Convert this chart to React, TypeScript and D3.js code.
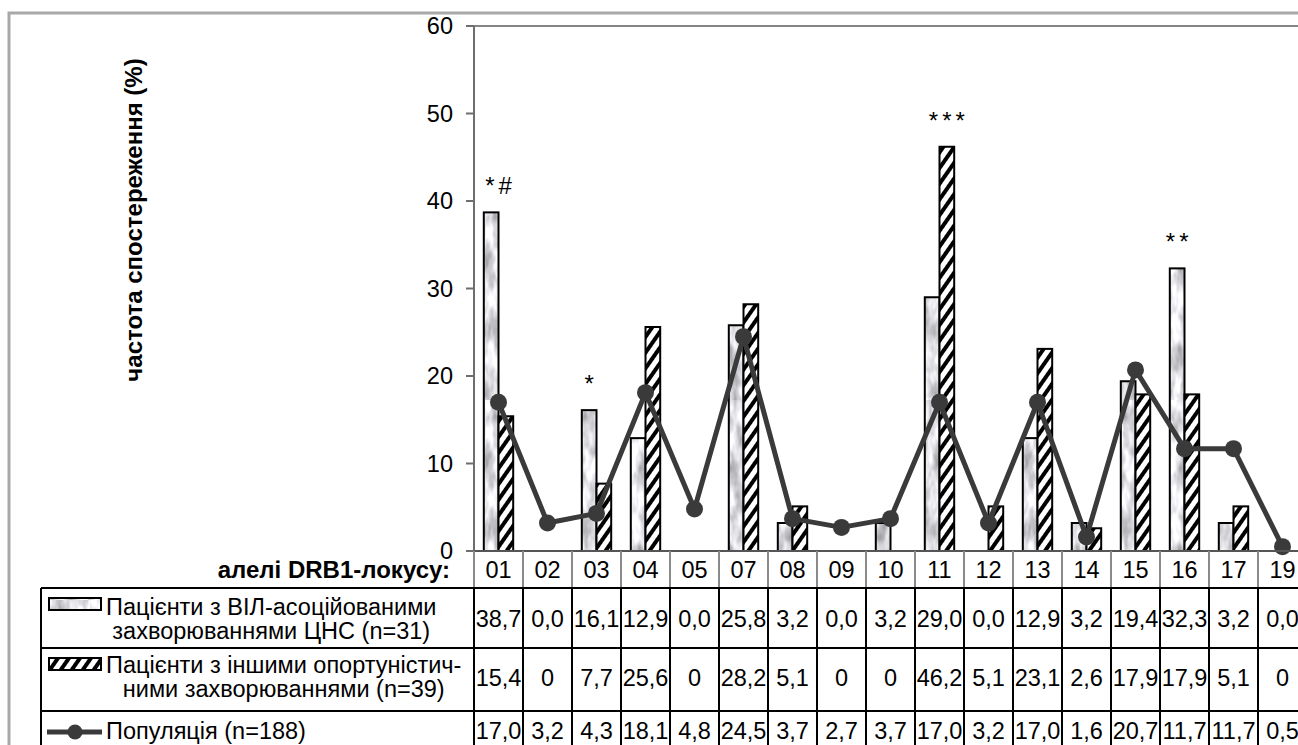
import React, { useRef, useEffect } from "react";
import * as d3 from "d3";

// alleles of the DRB1 locus (x categories)
const categories = ["01", "02", "03", "04", "05", "07", "08", "09", "10", "11", "12", "13", "14", "15", "16", "17", "19"];

// observed frequency (%) per group
const cnsValues = [38.7, 0.0, 16.1, 12.9, 0.0, 25.8, 3.2, 0.0, 3.2, 29.0, 0.0, 12.9, 3.2, 19.4, 32.3, 3.2, 0.0];
const otherValues = [15.4, 0, 7.7, 25.6, 0, 28.2, 5.1, 0, 0, 46.2, 5.1, 23.1, 2.6, 17.9, 17.9, 5.1, 0];
const populationValues = [17.0, 3.2, 4.3, 18.1, 4.8, 24.5, 3.7, 2.7, 3.7, 17.0, 3.2, 17.0, 1.6, 20.7, 11.7, 11.7, 0.5];

const yTicks = [0, 10, 20, 30, 40, 50, 60];

// significance marks and the bar they sit over
const annotations = [
  { category: "01", text: "*#", over: "both" },
  { category: "03", text: "*", over: "cns" },
  { category: "11", text: "***", over: "other" },
  { category: "16", text: "**", over: "cns" },
];

const legendLines = [
  ["Пацієнти з ВІЛ-асоційованими", "захворюваннями ЦНС (n=31)"],
  ["Пацієнти з іншими опортуністич-", "ними захворюваннями (n=39)"],
  ["Популяція (n=188)"],
];

const yTitle = "частота спостереження (%)";
const xTitle = "алелі DRB1-локусу:";

function App() {
  const chartRef = useRef<SVGSVGElement>(null);

  useEffect(() => {
    const svg = d3.select(chartRef.current);
    svg.selectAll("*").remove();
    const width = 1298;
    const font = "'Liberation Sans', Arial, sans-serif";
    svg.attr("font-family", font);
    const fs = "23.5px";

    // layout
    const axisX = 474;
    const plotRight = 1307;
    const yTop = 26;
    const yBottom = 551;
    const rowLines = [588, 648, 711];
    const tableLeft = 41;
    const bottom = 745;

    const x = d3.scaleBand().domain(categories).range([axisX, plotRight]);
    const inner = d3.scaleBand().domain(["cns", "other"]).range([0, x.bandwidth()]).paddingOuter(0.667);
    const y = d3.scaleLinear().domain([0, 60]).range([yBottom, yTop]);

    // textures
    const defs = svg.append("defs");
    const f = defs.append("filter").attr("id", "noise").attr("x", 0).attr("y", 0).attr("width", "100%").attr("height", "100%")
      .attr("color-interpolation-filters", "sRGB");
    f.append("feTurbulence").attr("type", "fractalNoise").attr("baseFrequency", "0.09 0.035").attr("numOctaves", 3).attr("seed", 7);
    f.append("feColorMatrix").attr("type", "matrix")
      .attr("values", "0.8 0 0 0 0.47  0.8 0 0 0 0.47  0.8 0 0 0 0.49  0 0 0 0 1");
    const marble = defs.append("pattern").attr("id", "marble").attr("patternUnits", "userSpaceOnUse").attr("width", 90).attr("height", 200);
    marble.append("rect").attr("width", 90).attr("height", 200).attr("filter", "url(#noise)");

    const hatch = defs.append("pattern").attr("id", "hatch").attr("patternUnits", "userSpaceOnUse")
      .attr("width", 9).attr("height", 9).attr("patternTransform", "rotate(35)");
    hatch.append("rect").attr("width", 9).attr("height", 9).attr("fill", "#fff");
    hatch.append("rect").attr("width", 4).attr("height", 9).attr("fill", "#000");

    // outer frame
    svg.append("path").attr("d", `M9,${bottom} V13 H${width}`).attr("fill", "none").attr("stroke", "#a8a8a8").attr("stroke-width", 3);
    // plot area top border
    svg.append("line").attr("x1", axisX).attr("x2", width).attr("y1", yTop).attr("y2", yTop).attr("stroke", "#858585").attr("stroke-width", 2);

    // y axis
    svg.append("line").attr("x1", axisX).attr("x2", axisX).attr("y1", yTop).attr("y2", rowLines[0]).attr("stroke", "#6e6e6e").attr("stroke-width", 2);
    const yt = svg.append("g").selectAll("g").data(yTicks).enter().append("g");
    yt.append("line").attr("x1", axisX - 8).attr("x2", axisX).attr("y1", (d) => y(d)).attr("y2", (d) => y(d)).attr("stroke", "#6e6e6e").attr("stroke-width", 2);
    yt.append("text").attr("x", 453).attr("y", (d) => y(d)).attr("dy", "0.35em").attr("text-anchor", "end")
      .style("font-size", fs).text((d) => d);

    svg.append("text").attr("transform", `translate(142,220) rotate(-90)`).attr("text-anchor", "middle")
      .style("font-size", "24px").style("font-weight", "bold").text(yTitle);

    // bars
    const bars = svg.append("g");
    categories.forEach((c, i) => {
      const pairs = [
        { key: "cns", v: cnsValues[i], fill: "url(#marble)" },
        { key: "other", v: otherValues[i], fill: "url(#hatch)" },
      ];
      pairs.filter((p) => p.v > 0).forEach((p) => {
        bars.append("rect")
          .attr("x", (x(c) as number) + (inner(p.key) as number))
          .attr("y", y(p.v))
          .attr("width", inner.bandwidth())
          .attr("height", y(0) - y(p.v))
          .attr("fill", p.fill)
          .attr("stroke", "#000")
          .attr("stroke-width", 2);
      });
    });

    // population line
    const cx = (c: string) => (x(c) as number) + x.bandwidth() / 2;
    const line = d3.line<number>().x((d, i) => cx(categories[i])).y((d) => y(d));
    svg.append("path").attr("d", line(populationValues)).attr("fill", "none").attr("stroke", "#3a3a3a").attr("stroke-width", 5).attr("stroke-linejoin", "round");
    svg.append("g").selectAll("circle").data(populationValues).enter().append("circle")
      .attr("cx", (d, i) => cx(categories[i])).attr("cy", (d) => y(d)).attr("r", 8.5).attr("fill", "#3a3a3a");

    // significance marks
    annotations.forEach((a) => {
      const i = categories.indexOf(a.category);
      const top = Math.max(cnsValues[i], otherValues[i]);
      const ax = a.over === "both" ? cx(a.category) : (x(a.category) as number) + (inner(a.over) as number) + inner.bandwidth() / 2;
      svg.append("text").attr("x", ax + 2).attr("y", y(top) - 18).attr("text-anchor", "middle")
        .style("font-size", "24px").style("letter-spacing", "4px").text(a.text);
    });

    // x axis and category row
    svg.append("line").attr("x1", axisX).attr("x2", width).attr("y1", yBottom).attr("y2", yBottom).attr("stroke", "#555").attr("stroke-width", 2);
    const bounds = categories.map((c) => x(c) as number).concat([plotRight]);
    svg.append("g").selectAll("line").data(bounds).enter().append("line")
      .attr("x1", (d) => d).attr("x2", (d) => d).attr("y1", yBottom).attr("y2", rowLines[0])
      .attr("stroke", "#8a8a8a").attr("stroke-width", 2);
    svg.append("g").selectAll("text").data(categories).enter().append("text")
      .attr("x", (d) => cx(d)).attr("y", 578).attr("text-anchor", "middle").style("font-size", fs).text((d) => d);
    svg.append("text").attr("x", 450).attr("y", 578).attr("text-anchor", "end")
      .style("font-size", "24px").style("font-weight", "bold").text(xTitle);

    // data table grid
    rowLines.forEach((ly) => {
      svg.append("line").attr("x1", tableLeft).attr("x2", width).attr("y1", ly).attr("y2", ly).attr("stroke", "#000").attr("stroke-width", 2);
    });
    svg.append("line").attr("x1", tableLeft).attr("x2", tableLeft).attr("y1", rowLines[0]).attr("y2", bottom).attr("stroke", "#000").attr("stroke-width", 2);
    svg.append("g").selectAll("line").data(bounds).enter().append("line")
      .attr("x1", (d) => d).attr("x2", (d) => d).attr("y1", rowLines[0]).attr("y2", bottom)
      .attr("stroke", "#000").attr("stroke-width", 2);

    const fmt = (v: number) => v.toFixed(1).replace(".", ",");
    const rows = [
      { vals: cnsValues.map(fmt), base: 627 },
      { vals: otherValues.map((v) => (v === 0 ? "0" : fmt(v))), base: 686 },
      { vals: populationValues.map(fmt), base: 739 },
    ];
    rows.forEach((r) => {
      svg.append("g").selectAll("text").data(r.vals).enter().append("text")
        .attr("x", (d, i) => cx(categories[i])).attr("y", r.base).attr("text-anchor", "middle")
        .style("font-size", fs).text((d) => d);
    });

    // legend cells
    const labelBases = [[615, 639], [673, 697], [739]];
    legendLines.forEach((lines, k) => {
      const t1 = svg.append("text").attr("x", 106).attr("y", labelBases[k][0]).style("font-size", fs).text(lines[0]);
      if (lines[1]) {
        const len1 = (t1.node() as SVGTextElement).getComputedTextLength();
        svg.append("text").attr("x", 106 + len1 / 2).attr("y", labelBases[k][1]).attr("text-anchor", "middle")
          .style("font-size", fs).text(lines[1]);
      }
    });
    svg.append("rect").attr("x", 49).attr("y", 598).attr("width", 52).attr("height", 12).attr("fill", "url(#marble)").attr("stroke", "#000").attr("stroke-width", 2);
    svg.append("rect").attr("x", 49).attr("y", 658).attr("width", 52).attr("height", 12).attr("fill", "url(#hatch)").attr("stroke", "#000").attr("stroke-width", 2);
    svg.append("line").attr("x1", 47).attr("x2", 102).attr("y1", 732).attr("y2", 732).attr("stroke", "#3a3a3a").attr("stroke-width", 5);
    svg.append("circle").attr("cx", 75).attr("cy", 732).attr("r", 7.5).attr("fill", "#3a3a3a");
  }, []);

  return (
    <svg ref={chartRef} width={1298} height={745} style={{ position: "absolute", left: 0, top: 0, background: "#fff" }}></svg>
  );
}

export default App;
